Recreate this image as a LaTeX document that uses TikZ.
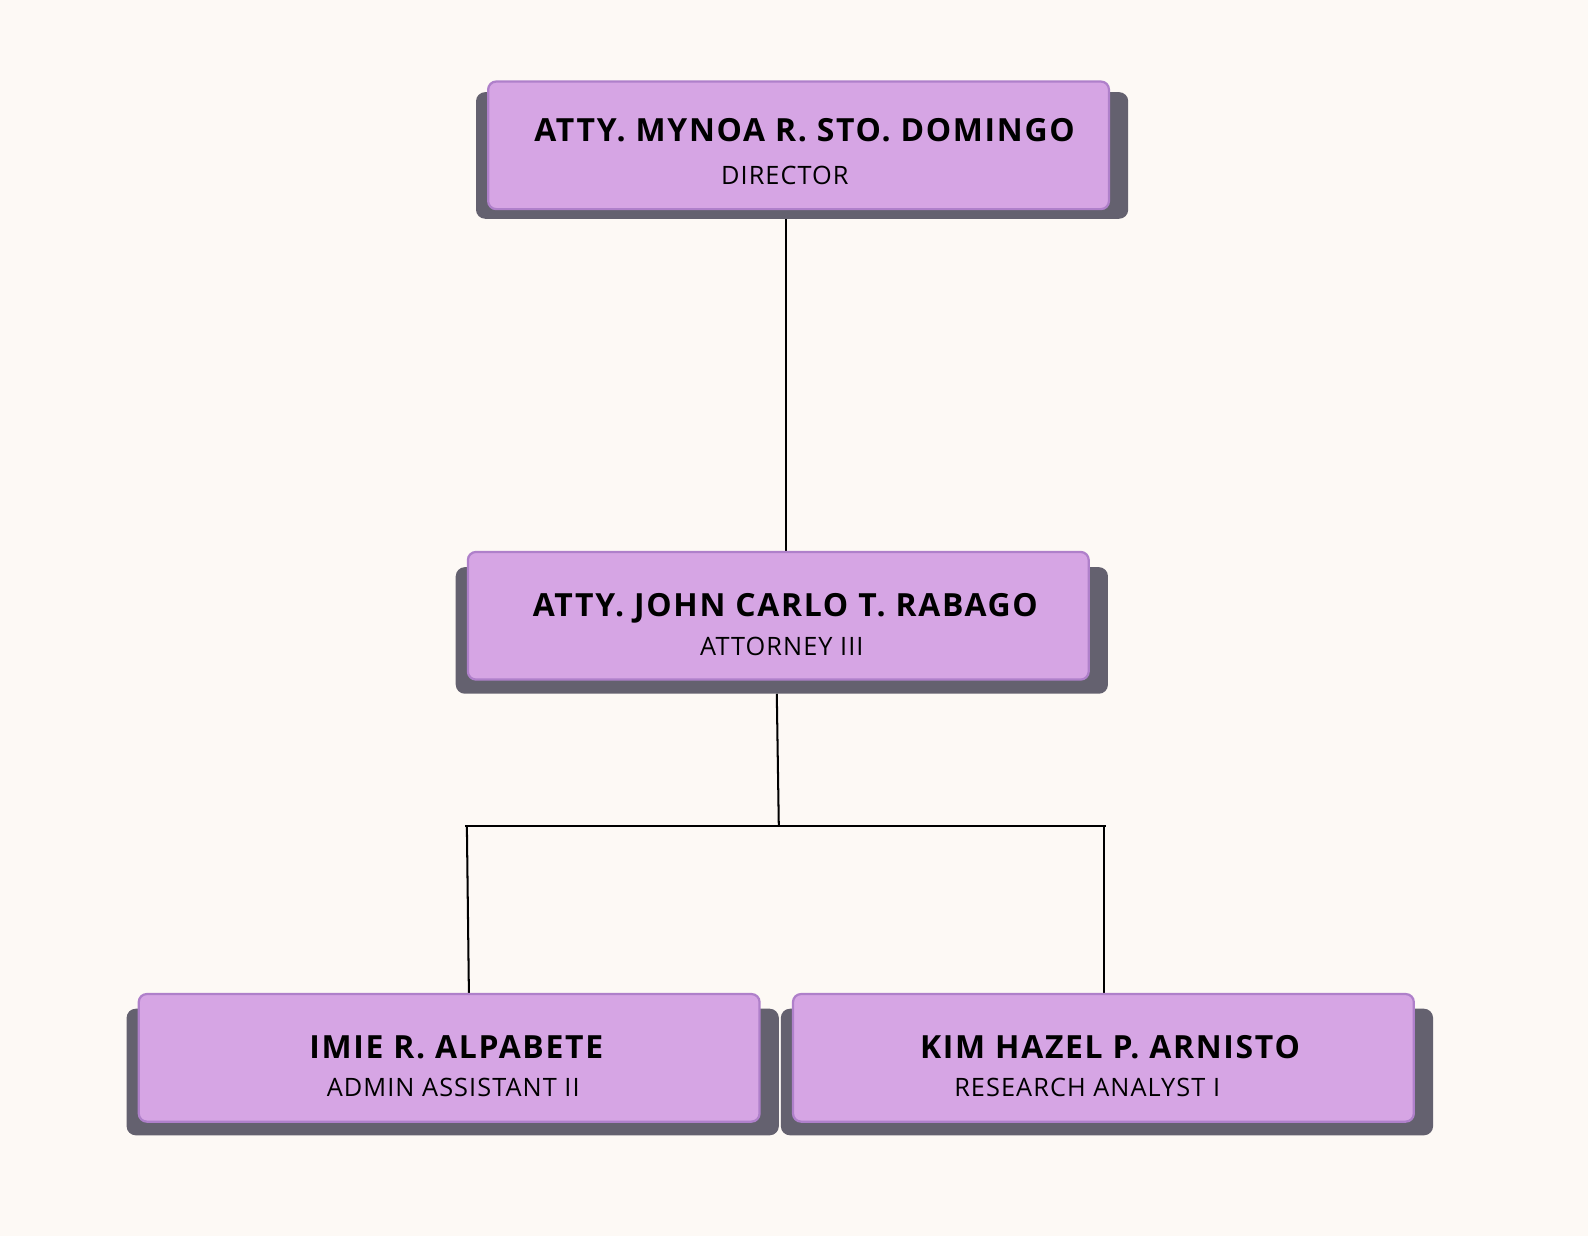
\documentclass[tikz,border=0pt]{standalone}
\usepackage{fontspec}
\setmainfont{Open Sans}
\newfontfamily\namefont[LetterSpace=5.3]{Open Sans Bold}
\newfontfamily\rolefont[LetterSpace=4.2]{Open Sans}
\pgfdeclarelayer{paper}
\pgfdeclarelayer{lines}
\pgfsetlayers{paper,lines,main}
\definecolor{bg}{HTML}{FDF9F5}
\definecolor{boxfill}{HTML}{D6A5E4}
\definecolor{boxline}{HTML}{AF80CA}
\definecolor{shade}{HTML}{64616F}
\tikzset{
  card/.style={draw=boxline, line width=2.2pt, fill=boxfill, rounded corners=8pt,
    minimum width=613pt, minimum height=126pt, inner sep=0pt},
  cardshadow/.style={fill=shade, rounded corners=9pt, minimum width=644pt,
    minimum height=125pt, inner sep=0pt},
  nametext/.style={anchor=base, inner sep=0pt, font=\namefont\fontsize{31.5}{34}\selectfont},
  roletext/.style={anchor=base, inner sep=0pt, font=\rolefont\fontsize{25}{28}\selectfont},
  link/.style={draw=black, line width=2pt}
}
\begin{document}
\begin{tikzpicture}[x=1pt,y=-1pt]
\begin{pgfonlayer}{paper}
\fill[bg] (0,0) rectangle (1568,1220);
\end{pgfonlayer}
\useasboundingbox (0,0) rectangle (1568,1220);
% shadows
\node[cardshadow] (s1) at (792,153.5) {};
\node[cardshadow] (s2) at (772,622.5) {};
\node[cardshadow] (s3) at (447,1058.5) {};
\node[cardshadow] (s4) at (1093,1058.5) {};
% cards
\node[card] (dir) at (788.5,143.5) {};
\node[card] (att) at (768.5,608) {};
\node[card] (adm) at (443.5,1044.5) {};
\node[card] (res) at (1089.5,1044.5) {};
% texts
\node[nametext] (n1) at (794.5,140) {ATTY. MYNOA R. STO. DOMINGO};
\node[roletext] (r1) at (775,182) {DIRECTOR};
\node[nametext] (n2) at (775.5,609) {ATTY. JOHN CARLO T. RABAGO};
\node[roletext] (r2) at (772,647) {ATTORNEY III};
\node[nametext] (n3) at (450.5,1045) {IMIE R. ALPABETE};
\node[roletext] (r3) at (447.5,1083) {ADMIN ASSISTANT II};
\node[nametext] (n4) at (1096,1045) {KIM HAZEL P. ARNISTO};
\node[roletext] (r4) at (1073.5,1083) {RESEARCH ANALYST I};
% connectors
\coordinate (jm) at (769,816);
\coordinate (jl) at (461,816);
\coordinate (jr) at (1090,816);
\coordinate (hl) at (459,816);
\coordinate (hr) at (1092,816);
\coordinate (dirfoot) at (776,207);
\coordinate (attfoot) at (767,685);
\begin{pgfonlayer}{lines}
\draw[link] (dirfoot) -- (dirfoot |- att.north);
\draw[link] (attfoot) -- (jm);
\draw[link] (hl) -- (hr);
\draw[link] (jl) -- (463,981);
\draw[link] (jr) -- (jr |- res.north);
\end{pgfonlayer}
\end{tikzpicture}
\end{document}
